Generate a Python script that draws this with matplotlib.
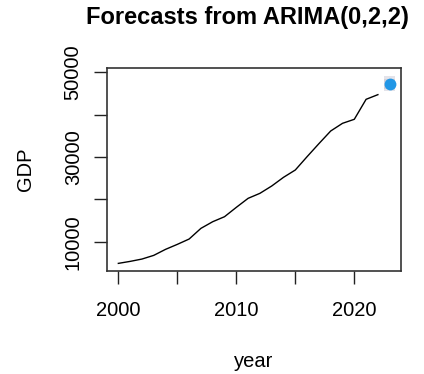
import numpy as np
import matplotlib
matplotlib.use("Agg")
import matplotlib.pyplot as plt

plt.rcParams['font.family'] = ['Liberation Sans', 'DejaVu Sans']

years = list(range(2000, 2023))
gdp = [4880, 5350, 5900, 6770, 8190, 9370, 10630, 13150, 14720, 15900,
       18110, 20240, 21420, 23150, 25200, 26930, 30080, 33150, 36140,
       37950, 38900, 43620, 44720]

# one-step forecast and its intervals
fc_year = [2023]
fc_mean = [47310]
lo80, hi80 = [46150], [48470]
lo95, hi95 = [45550], [49080]

yticks = [10000, 20000, 30000, 40000, 50000]
ylabels = ['10000', '', '30000', '', '50000']
xticks = [2000, 2005, 2010, 2015, 2020]
xlabels = ['2000', '', '2010', '', '2020']

fig = plt.figure(figsize=(4.24, 3.74), dpi=100)
ax = fig.add_axes([0.2524, 0.2754, 0.6934, 0.5428])

ax.plot(years, gdp, color='black', lw=1.0)
for i in range(len(fc_year)):
    ax.fill_between([fc_year[i] - 0.45, fc_year[i] + 0.45], lo95[i], hi95[i],
                    color='#E3E3EA', lw=0)
    ax.fill_between([fc_year[i] - 0.45, fc_year[i] + 0.45], lo80[i], hi80[i],
                    color='#D2D2DC', lw=0)
ax.plot(fc_year, fc_mean, 'o', color='#2297E6', ms=8.5, mec='none')

ax.set_xlim(1999.04, 2023.96)
ax.set_ylim(3080, 51015)
ax.set_xticks(xticks)
ax.set_xticklabels(xlabels, fontsize=14.5)
ax.set_yticks(yticks)
ax.set_yticklabels(ylabels, fontsize=14.5, rotation=90, va='center')
ax.tick_params(length=9.5, width=1.0, color='#222222', pad=12)
ax.tick_params(axis='y', pad=8)
for s in ax.spines.values():
    s.set_color('#333333')
    s.set_linewidth(1.2)

ax.set_xlabel('year', fontsize=14.5, labelpad=23)
ax.set_ylabel('GDP', fontsize=14.5, labelpad=21)
fig.text(0.584, 0.953, 'Forecasts from ARIMA(0,2,2)', fontsize=17,
         fontweight='bold', ha='center', va='center')

fig.savefig('out.png', dpi=100)
